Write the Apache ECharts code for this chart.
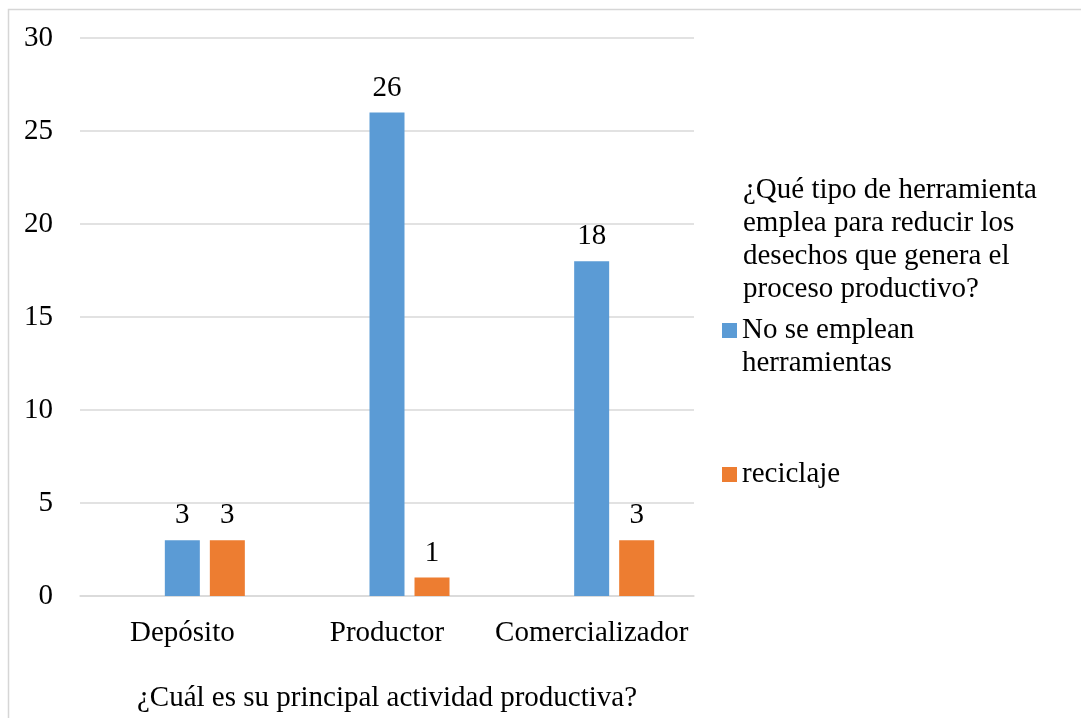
<!DOCTYPE html>
<html>
<head>
<meta charset="utf-8">
<script src="https://cdn.jsdelivr.net/npm/echarts@6/dist/echarts.min.js"></script>
<style>
  html, body { margin: 0; padding: 0; background: #ffffff; }
  #chart { width: 1081px; height: 718px; }
</style>
</head>
<body>
<div id="chart"></div>
<script>
// Categories on the x axis
const categories = ['Depósito', 'Productor', 'Comercializador'];

// Legend header (the question) and the answer series
const legendHeader = '¿Qué tipo de herramienta\nemplea para reducir los\ndesechos que genera el\nproceso productivo?';
const headerValues = [null, null, null];
const noHerramientas = [3, 26, 18];
const reciclaje = [3, 1, 3];

const seriesNames = ['No se emplean herramientas', 'reciclaje'];
const xAxisTitle = '¿Cuál es su principal actividad productiva?';

// Value axis ticks
const yMin = 0, yMax = 30, yStep = 5;

const FONT = "'Liberation Serif', 'Times New Roman', serif";
const FS = 29;
const GRID_GRAY = '#d9d9d9';

const chart = echarts.init(document.getElementById('chart'), null, { renderer: 'canvas' });

const labelCfg = {
  show: true,
  position: 'top',
  distance: 10,
  color: '#000',
  fontFamily: FONT,
  fontSize: FS
};

chart.setOption({
  backgroundColor: '#ffffff',
  animation: false,
  textStyle: { fontFamily: FONT },
  graphic: [{
    type: 'rect',
    silent: true,
    shape: { x: 8.5, y: 9.5, width: 1300, height: 900 },
    style: { fill: 'none', stroke: '#d6d6d6', lineWidth: 1.5 }
  }],
  title: {
    text: legendHeader,
    left: 743,
    top: 174,
    padding: 0,
    textStyle: {
      fontFamily: FONT,
      fontSize: FS,
      fontWeight: 'normal',
      color: '#000',
      lineHeight: 33
    }
  },
  legend: {
    orient: 'vertical',
    left: 722,
    top: 281,
    padding: 0,
    itemGap: 78,
    itemWidth: 15,
    itemHeight: 15,
    icon: 'rect',
    data: seriesNames,
    formatter: function (name) {
      return name === seriesNames[0] ? '\nNo se emplean\nherramientas' : name;
    },
    textStyle: {
      fontFamily: FONT,
      fontSize: FS,
      color: '#000',
      lineHeight: 33
    }
  },
  grid: {
    left: 80,
    right: 1081 - 694,
    top: 38,
    bottom: 718 - 598,
    containLabel: false
  },
  xAxis: {
    type: 'category',
    data: categories,
    name: xAxisTitle,
    nameLocation: 'middle',
    nameGap: 88,
    nameTextStyle: { fontFamily: FONT, fontSize: FS, color: '#000' },
    axisLine: { show: true, lineStyle: { color: GRID_GRAY, width: 1.5 } },
    axisTick: { show: false },
    axisLabel: { interval: 0, margin: 23, color: '#000', fontFamily: FONT, fontSize: FS }
  },
  yAxis: {
    type: 'value',
    min: yMin,
    max: yMax,
    interval: yStep,
    axisLine: { show: false },
    axisTick: { show: false },
    axisLabel: { margin: 27, color: '#000', fontFamily: FONT, fontSize: FS },
    splitLine: { lineStyle: { color: GRID_GRAY, width: 1.5 } }
  },
  series: [
    {
      name: 'header',
      type: 'bar',
      data: headerValues,
      barWidth: 35,
      barGap: '28.6%',
      itemStyle: { color: 'rgba(0,0,0,0)' }
    },
    {
      name: seriesNames[0],
      type: 'bar',
      data: noHerramientas,
      barWidth: 35,
      barGap: '28.6%',
      itemStyle: { color: '#5b9bd5' },
      label: labelCfg
    },
    {
      name: seriesNames[1],
      type: 'bar',
      data: reciclaje,
      barWidth: 35,
      barGap: '28.6%',
      itemStyle: { color: '#ed7d31' },
      label: labelCfg
    }
  ]
});
</script>
</body>
</html>
